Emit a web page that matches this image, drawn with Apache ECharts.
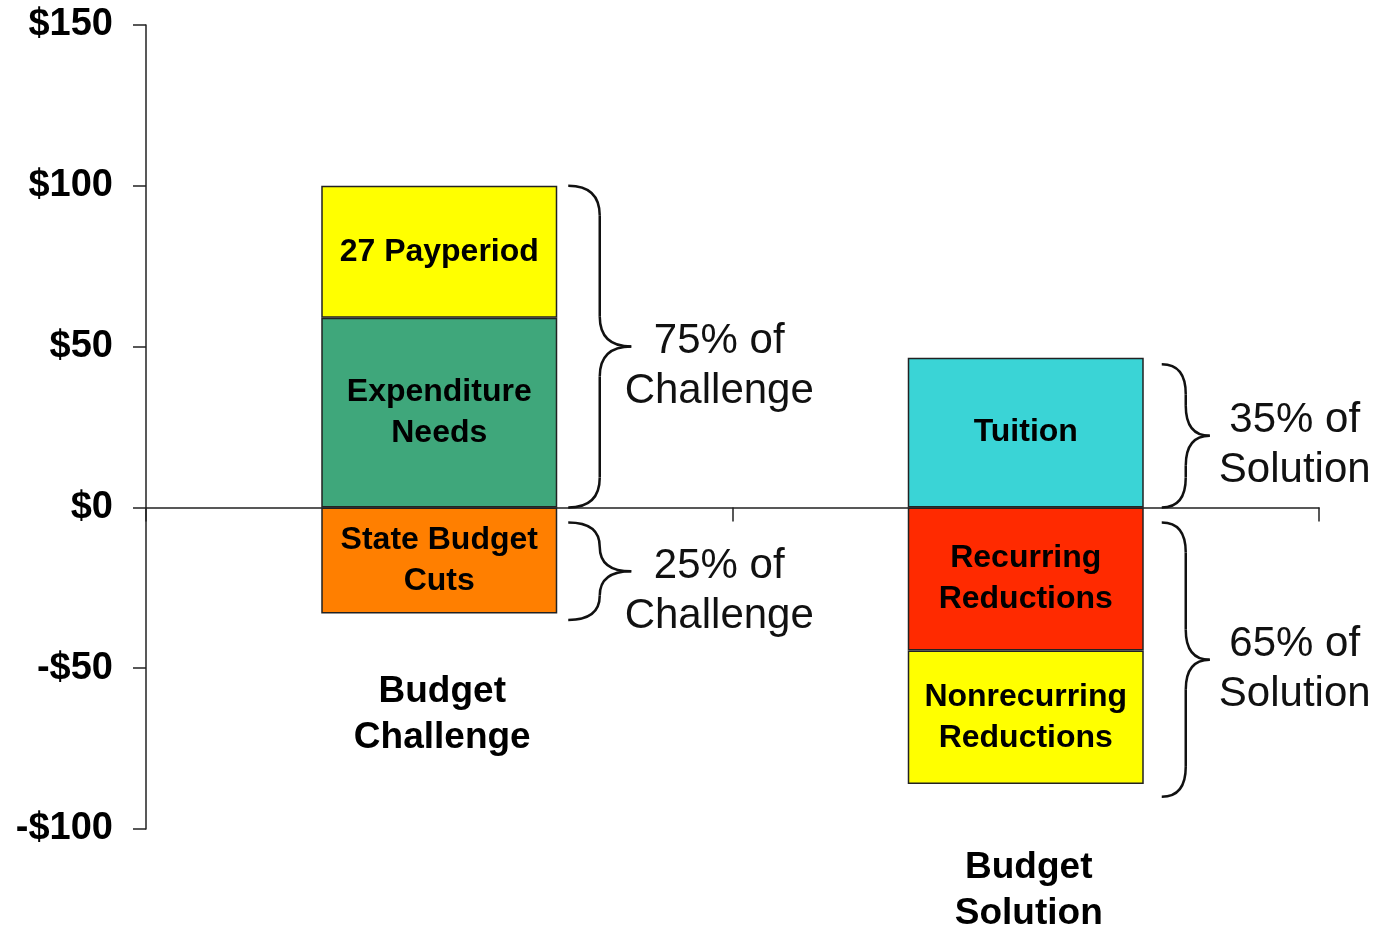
<!DOCTYPE html>
<html>
<head>
<meta charset="utf-8">
<script src="https://cdn.jsdelivr.net/npm/echarts@6/dist/echarts.min.js"></script>
<style>
  html, body { margin: 0; padding: 0; background: #fff; }
  #budgetChart { width: 1380px; height: 930px; }
</style>
</head>
<body>
<div id="budgetChart"></div>
<script>
// categories and stacked segments (values in $ millions)
var categories = ['Budget Challenge', 'Budget Solution'];
var layer1 = [59, 46.5];
var layer2 = [41, -44.5];
var layer3 = [-33, -41.5];
var layer1Names = ['Expenditure\nNeeds', 'Tuition'];
var layer2Names = ['27 Payperiod', 'Recurring\nReductions'];
var layer3Names = ['State Budget\nCuts', 'Nonrecurring\nReductions'];

// brackets on the right of each bar
var braceCat = [0, 0, 1, 1];
var braceTop = [100, -4.7, 44.5, -4.7];
var braceBottom = [0, -35, 0, -90];
var braceText = ['75% of\nChallenge', '25% of\nChallenge', '35% of\nSolution', '65% of\nSolution'];

// where the category captions sit
var captionY = [-64, -118.5];
var captionText = ['Budget\nChallenge', 'Budget\nSolution'];

var yTicks = [-100, -50, 0, 50, 100, 150];

var FONT = '"Liberation Sans", Arial, sans-serif';
var colors1 = ['#3fa77b', '#3ad4d6'];
var colors2 = ['#ffff00', '#ff2a00'];
var colors3 = ['#ff7f00', '#ffff00'];

// brace look per category: gap from bar centre, width, text shift
var braceStyle = [
  { gap: 129, w: 63, tx: 88, ty: 20 },
  { gap: 136, w: 48, tx: 85, ty: 10 }
];

function segData(vals, names, cols) {
  return vals.map(function (v, i) {
    return { value: v, name: names[i], itemStyle: { color: cols[i] } };
  });
}

var barLabel = {
  show: true,
  position: 'inside',
  formatter: function (p) { return p.name; },
  color: '#000',
  fontFamily: FONT,
  fontWeight: 'bold',
  fontSize: 32,
  lineHeight: 41
};

function barSeries(name, vals, names, cols) {
  return {
    name: name,
    type: 'bar',
    stack: 'total',
    barWidth: 236,
    data: segData(vals, names, cols),
    itemStyle: { borderColor: '#222', borderWidth: 1.5 },
    label: barLabel,
    emphasis: { disabled: true }
  };
}

function renderBrace(params, api) {
  var i = params.dataIndex;
  var bs = braceStyle[api.value(0)];
  var top = api.coord([api.value(0), api.value(1)]);
  var bot = api.coord([api.value(0), api.value(2)]);
  var L = top[0] + bs.gap;
  var w = bs.w;
  var m = L + w / 2;
  var y1 = top[1], y2 = bot[1], ym = (y1 + y2) / 2;
  var r = Math.min(30, (y2 - y1) / 4);
  var st = { stroke: '#111', lineWidth: 2.5, fill: null };
  return {
    type: 'group',
    children: [
      { type: 'bezierCurve', shape: { x1: L, y1: y1, x2: m, y2: y1 + r, cpx1: m, cpy1: y1 }, style: st },
      { type: 'line', shape: { x1: m, y1: y1 + r, x2: m, y2: ym - r }, style: st },
      { type: 'bezierCurve', shape: { x1: m, y1: ym - r, x2: L + w, y2: ym, cpx1: m, cpy1: ym }, style: st },
      { type: 'bezierCurve', shape: { x1: L + w, y1: ym, x2: m, y2: ym + r, cpx1: m, cpy1: ym }, style: st },
      { type: 'line', shape: { x1: m, y1: ym + r, x2: m, y2: y2 - r }, style: st },
      { type: 'bezierCurve', shape: { x1: m, y1: y2 - r, x2: L, y2: y2, cpx1: m, cpy1: y2 }, style: st },
      {
        type: 'text',
        x: L + w + bs.tx,
        y: ym + bs.ty,
        style: {
          text: braceText[i],
          fill: '#111',
          font: '42px ' + FONT,
          lineHeight: 50,
          align: 'center',
          verticalAlign: 'middle'
        }
      }
    ]
  };
}

var chart = echarts.init(document.getElementById('budgetChart'));
var options = {
  animation: false,
  grid: { left: 146, right: 61, top: 25, bottom: 101, containLabel: false },
  xAxis: {
    type: 'category',
    data: categories,
    boundaryGap: true,
    axisLine: { onZero: true, lineStyle: { color: '#222', width: 1.5 } },
    axisTick: { show: true, length: 14, lineStyle: { color: '#222', width: 1.5 } },
    axisLabel: { show: false },
    splitLine: { show: false }
  },
  yAxis: {
    type: 'value',
    min: yTicks[0],
    max: yTicks[yTicks.length - 1],
    interval: 50,
    axisLine: { show: true, lineStyle: { color: '#222', width: 1.5 } },
    axisTick: { show: true, length: 13, lineStyle: { color: '#222', width: 1.5 } },
    splitLine: { show: false },
    axisLabel: {
      margin: 33,
      padding: [6, 0, 0, 0],
      color: '#000',
      fontFamily: FONT,
      fontWeight: 'bold',
      fontSize: 38,
      formatter: function (v) { return v < 0 ? '-$' + Math.abs(v) : '$' + v; }
    }
  },
  series: [
    barSeries('layer1', layer1, layer1Names, colors1),
    barSeries('layer2', layer2, layer2Names, colors2),
    barSeries('layer3', layer3, layer3Names, colors3),
    {
      type: 'custom',
      renderItem: renderBrace,
      clip: false,
      encode: { x: 0, y: [1, 2] },
      data: braceCat.map(function (c, i) { return [c, braceTop[i], braceBottom[i]]; }),
      silent: true
    },
    {
      type: 'scatter',
      symbolSize: 0,
      clip: false,
      silent: true,
      itemStyle: { opacity: 1 },
      data: captionY.map(function (y, i) { return { value: [i, y], name: captionText[i] }; }),
      label: {
        show: true,
        position: 'inside',
        offset: [3, 2],
        formatter: function (p) { return p.name; },
        color: '#000',
        fontFamily: FONT,
        fontWeight: 'bold',
        fontSize: 37,
        lineHeight: 46
      }
    }
  ]
};
chart.setOption(options);
</script>
</body>
</html>
